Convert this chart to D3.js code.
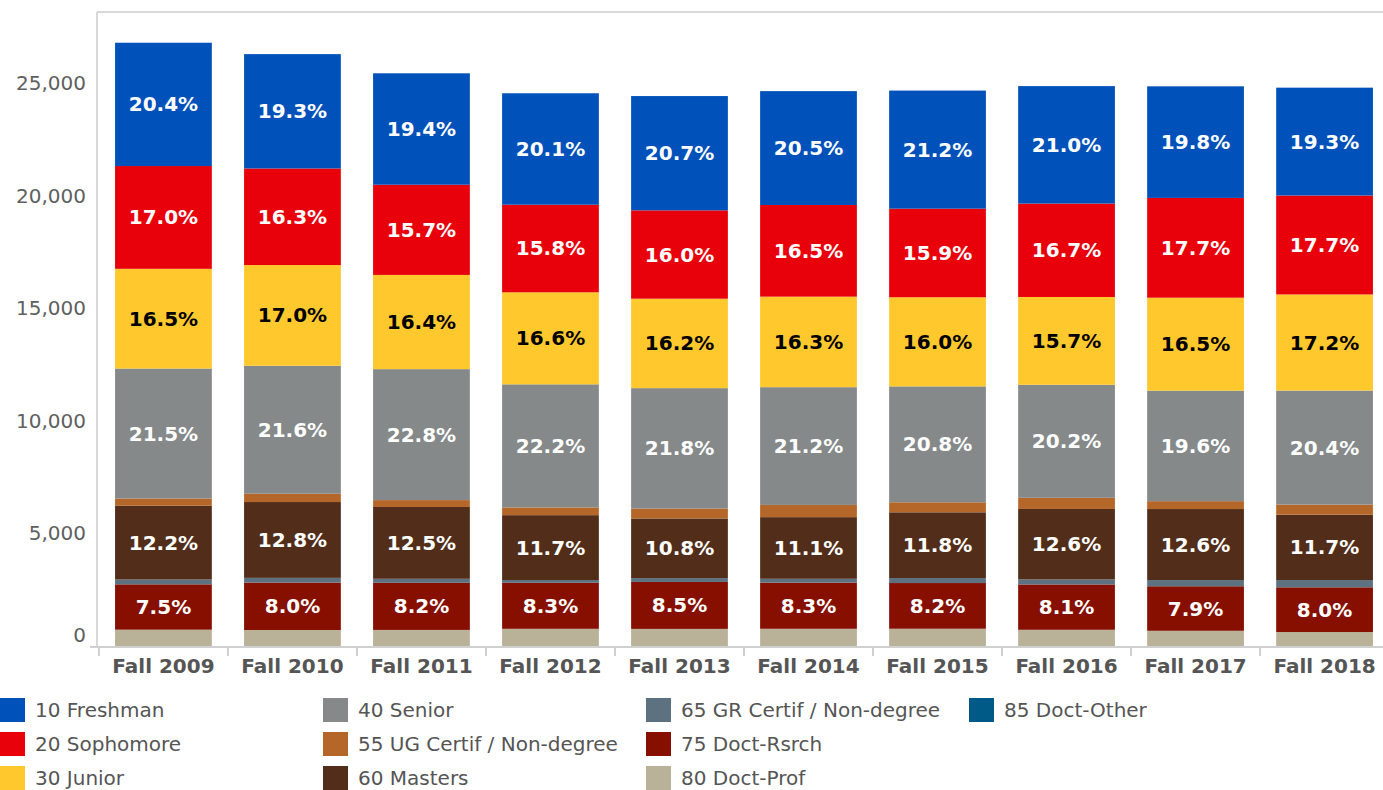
<!DOCTYPE html>
<html>
<head>
<meta charset="utf-8">
<script src="https://cdn.jsdelivr.net/npm/d3@7"></script>
<style>
  body { margin: 0; background: #fff; }
  svg { display: block; font-family: "DejaVu Sans", Verdana, sans-serif; }
</style>
</head>
<body>
<svg id="chart" width="1383" height="790"></svg>
<script>
var years = ["Fall 2009", "Fall 2010", "Fall 2011", "Fall 2012", "Fall 2013",
             "Fall 2014", "Fall 2015", "Fall 2016", "Fall 2017", "Fall 2018"];

// headcount per fall
var totals = [26866, 26332, 25530, 24640, 24540, 24686, 24760, 24860, 25050, 24840];

// share of headcount (%) by student level
var freshman  = [20.4, 19.3, 19.4, 20.1, 20.7, 20.5, 21.2, 21.0, 19.8, 19.3];
var sophomore = [17.0, 16.3, 15.7, 15.8, 16.0, 16.5, 15.9, 16.7, 17.7, 17.7];
var junior    = [16.5, 17.0, 16.4, 16.6, 16.2, 16.3, 16.0, 15.7, 16.5, 17.2];
var senior    = [21.5, 21.6, 22.8, 22.2, 21.8, 21.2, 20.8, 20.2, 19.6, 20.4];
var ugCertif  = [1.2, 1.4, 1.2, 1.4, 1.8, 2.2, 1.8, 2.0, 1.4, 1.8];
var masters   = [12.2, 12.8, 12.5, 11.7, 10.8, 11.1, 11.8, 12.6, 12.6, 11.7];
var grCertif  = [0.8, 0.8, 0.7, 0.5, 0.7, 0.7, 0.9, 0.9, 1.1, 1.3];
var doctRsrch = [7.5, 8.0, 8.2, 8.3, 8.5, 8.3, 8.2, 8.1, 7.9, 8.0];
var doctProf  = [2.7, 2.7, 2.8, 3.1, 3.1, 3.1, 3.1, 2.9, 2.7, 2.5];
var doctOther = [0, 0, 0, 0, 0, 0, 0, 0, 0, 0];

var yTicks = [0, 5000, 10000, 15000, 20000, 25000];

var series = [
  { key: "freshman",  name: "10 Freshman",              color: "#0051ba", text: "#fff", values: freshman,  label: true },
  { key: "sophomore", name: "20 Sophomore",             color: "#e8000b", text: "#fff", values: sophomore, label: true },
  { key: "junior",    name: "30 Junior",                color: "#ffc82d", text: "#000", values: junior,    label: true },
  { key: "senior",    name: "40 Senior",                color: "#85898a", text: "#fff", values: senior,    label: true },
  { key: "ugCertif",  name: "55 UG Certif / Non-degree", color: "#b5672a", text: "#fff", values: ugCertif,  label: false },
  { key: "masters",   name: "60 Masters",               color: "#522e1a", text: "#fff", values: masters,   label: true },
  { key: "grCertif",  name: "65 GR Certif / Non-degree", color: "#5d7180", text: "#fff", values: grCertif,  label: false },
  { key: "doctRsrch", name: "75 Doct-Rsrch",            color: "#870f00", text: "#fff", values: doctRsrch, label: true },
  { key: "doctProf",  name: "80 Doct-Prof",             color: "#b9b198", text: "#fff", values: doctProf,  label: false },
  { key: "doctOther", name: "85 Doct-Other",            color: "#005a87", text: "#fff", values: doctOther, label: false }
];

var table = years.map(function (y, i) {
  var row = { year: y };
  series.forEach(function (s) { row[s.key] = s.values[i] * totals[i] / 100; });
  return row;
});

var svg = d3.select("#chart");

var plotLeft = 97, plotTop = 12, plotBottom = 646;

var x = d3.scaleBand()
  .domain(years)
  .range([plotLeft, 1391])
  .paddingInner(0.25)
  .paddingOuter(0.14);

var y = d3.scaleLinear()
  .domain([0, 25000])
  .range([plotBottom, 83.5]);

// plot frame
svg.append("line")
  .attr("x1", plotLeft).attr("x2", 1383)
  .attr("y1", plotTop).attr("y2", plotTop)
  .attr("stroke", "#d8d8d8").attr("stroke-width", 2);
svg.append("line")
  .attr("x1", plotLeft).attr("x2", plotLeft)
  .attr("y1", plotTop).attr("y2", plotBottom + 1)
  .attr("stroke", "#d8d8d8").attr("stroke-width", 2);

// stacked bars, bottom level first
var stack = d3.stack().keys(series.map(function (s) { return s.key; }).reverse());
var layers = stack(table);

var groups = svg.append("g").selectAll("g")
  .data(layers)
  .enter()
  .append("g")
    .attr("fill", function (d) { return series.find(function (s) { return s.key === d.key; }).color; });

groups.selectAll("rect")
  .data(function (d) { return d; })
  .enter()
  .append("rect")
    .attr("x", function (d) { return x(d.data.year); })
    .attr("width", x.bandwidth())
    .attr("y", function (d) { return y(d[1]); })
    .attr("height", function (d) { return y(d[0]) - y(d[1]); });

// percentage labels
layers.forEach(function (layer) {
  var s = series.find(function (t) { return t.key === layer.key; });
  if (!s.label) return;
  svg.append("g").selectAll("text")
    .data(layer)
    .enter()
    .append("text")
      .attr("x", function (d) { return x(d.data.year) + x.bandwidth() / 2; })
      .attr("y", function (d) { return (y(d[0]) + y(d[1])) / 2; })
      .attr("text-anchor", "middle")
      .attr("dominant-baseline", "central")
      .attr("fill", s.text)
      .style("font-size", "20px")
      .style("font-weight", "bold")
      .text(function (d, i) { return s.values[i].toFixed(1) + "%"; });
});

// x axis
var axisY = plotBottom + 1;
svg.append("line")
  .attr("x1", 90).attr("x2", 1383)
  .attr("y1", axisY).attr("y2", axisY)
  .attr("stroke", "#d0d0d0").attr("stroke-width", 2);

var step = x.step();
var bounds = years.map(function (d) { return x(d) + x.bandwidth() / 2 - step / 2; });
svg.append("g").selectAll("line")
  .data(bounds)
  .enter()
  .append("line")
    .attr("x1", function (d) { return d; })
    .attr("x2", function (d) { return d; })
    .attr("y1", axisY).attr("y2", axisY + 9)
    .attr("stroke", "#d0d0d0").attr("stroke-width", 2);

var xAxis = svg.append("g")
  .attr("transform", "translate(0," + axisY + ")")
  .call(d3.axisBottom(x).tickSize(0).tickPadding(20));
xAxis.select(".domain").remove();
xAxis.selectAll("text")
  .attr("fill", "#555")
  .style("font-family", "DejaVu Sans, Verdana, sans-serif")
  .style("font-size", "20px")
  .style("font-weight", "bold")
  .attr("dy", "0.3em");

// y axis labels
var yAxis = svg.append("g")
  .attr("transform", "translate(86,0)")
  .call(d3.axisLeft(y).tickValues(yTicks).tickSize(0).tickPadding(0).tickFormat(d3.format(",")));
yAxis.select(".domain").remove();
yAxis.selectAll("text")
  .attr("fill", "#606060")
  .style("font-family", "DejaVu Sans, Verdana, sans-serif")
  .style("font-size", "20px")
  .attr("dy", function (d) { return d === 0 ? "-0.25em" : "0.32em"; });

// legend, three rows per column
var legend = svg.append("g").selectAll("g")
  .data(series)
  .enter()
  .append("g")
    .attr("transform", function (d, i) {
      return "translate(" + (Math.floor(i / 3) * 323) + "," + (698 + (i % 3) * 34) + ")";
    });

legend.append("rect")
  .attr("width", 25).attr("height", 24)
  .attr("fill", function (d) { return d.color; });

legend.append("text")
  .attr("x", 35).attr("y", 12)
  .attr("dominant-baseline", "central")
  .attr("fill", "#555")
  .style("font-size", "20px")
  .text(function (d) { return d.name; });
</script>
</body>
</html>
